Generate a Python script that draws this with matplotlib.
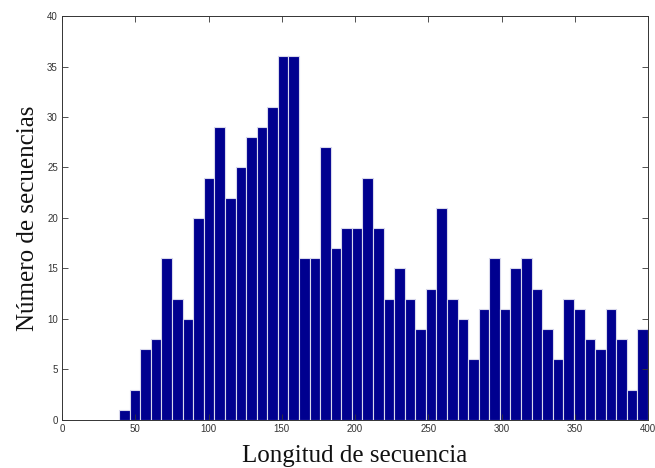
import numpy as np
import matplotlib
matplotlib.use("Agg")
import matplotlib.pyplot as plt

# Histogram counts (50 bins between min and max sequence length)
counts = [1, 3, 7, 8, 16, 12, 10, 20, 24, 29,
          22, 25, 28, 29, 31, 36, 36, 16, 16, 27,
          17, 19, 19, 24, 19, 12, 15, 12, 9, 13,
          21, 12, 10, 6, 11, 16, 11, 15, 16, 13,
          9, 6, 12, 11, 8, 7, 11, 8, 3, 9]
len_min = 39.0
len_max = 400.0
xticks = [0, 50, 100, 150, 200, 250, 300, 350, 400]
yticks = [0, 5, 10, 15, 20, 25, 30, 35, 40]

edges = np.linspace(len_min, len_max, len(counts) + 1)
width = edges[1] - edges[0]

fig = plt.figure(figsize=(6.55, 4.68), dpi=100)
ax = fig.add_axes([0.0947, 0.1026, 0.8946, 0.8632])

ax.bar(edges[:-1], counts, width=width, align="edge",
       color="#00008f", edgecolor="#d8d8ec", linewidth=0.8)

ax.set_xlim(0, 400)
ax.set_ylim(0, 40)
ax.set_xticks(xticks)
ax.set_yticks(yticks)
ax.tick_params(direction="in", top=True, right=True, length=4, width=0.6,
               labelsize=7, colors="#333333", pad=3)
for lbl in ax.get_xticklabels() + ax.get_yticklabels():
    lbl.set_family("Liberation Sans")
for s in ax.spines.values():
    s.set_linewidth(0.7)
    s.set_color("#333333")

ax.set_xlabel("Longitud de secuencia", family="Liberation Serif", fontsize=18,
              color="#111111", labelpad=8)
ax.set_ylabel("Número de secuencias", family="Liberation Serif", fontsize=18,
              color="#111111", labelpad=6)

fig.savefig("out.png", dpi=100)
